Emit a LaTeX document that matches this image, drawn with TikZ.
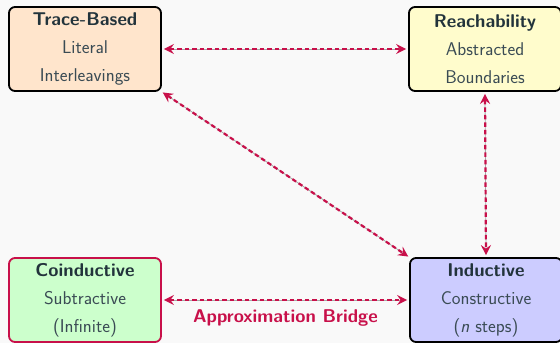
\documentclass[tikz,border=0pt]{standalone}
\usetikzlibrary{arrows.meta}
\definecolor{bgc}{HTML}{F9F9F9}
\definecolor{crim}{HTML}{C8104A}
\definecolor{txt}{HTML}{3A4B54}
\definecolor{ttl}{HTML}{22333B}
\tikzset{
  box/.style={draw=black, line width=1.8pt, rounded corners=6pt, minimum width=152pt, minimum height=84pt, inner sep=0pt, align=center, text=txt, font=\sffamily\fontsize{18.5}{28}\selectfont},
  link/.style={crim, line width=2.2pt, dash pattern=on 4.5pt off 3pt, {Stealth[length=10pt,width=10pt,inset=3.5pt]}-{Stealth[length=10pt,width=10pt,inset=3.5pt]}, preaction={draw=gray!70, line width=0.8pt, solid, shorten <=4pt, shorten >=4pt, -}},
}
\newcommand{\ttlb}[1]{{\bfseries\color{ttl}#1}}
\begin{document}
\begin{tikzpicture}[x=1pt,y=-1pt]
\useasboundingbox[fill=bgc] (0,0) rectangle (560,343);
\node[box, fill=orange!20] (trace) at (85,49) {\ttlb{Trace-Based}\\Literal\\Interleavings};
\node[box, fill=yellow!20] (reach) at (485,49) {\ttlb{Reachability}\\Abstracted\\Boundaries};
\node[box, fill=green!20, draw=crim] (coind) at (85,300) {\ttlb{Coinductive}\\Subtractive\\(Infinite)};
\node[box, fill=blue!20] (ind) at (486,300) {\ttlb{Inductive}\\Constructive\\(\textit{n} steps)};
\draw[link, shorten <=2pt, shorten >=2pt] (trace.east) -- (reach.west);
\draw[link, shorten <=2pt, shorten >=2pt] (reach.south) -- (ind.north);
\draw[link, shorten <=1pt, shorten >=1pt] (trace.south east) -- (ind.north west);
\draw[link, shorten <=2pt, shorten >=2pt] (coind.east) -- node[below=5pt, text=crim, font=\sffamily\bfseries\fontsize{18.5}{20}\selectfont] (lbl) {Approximation Bridge} (ind.west);
\end{tikzpicture}
\end{document}
